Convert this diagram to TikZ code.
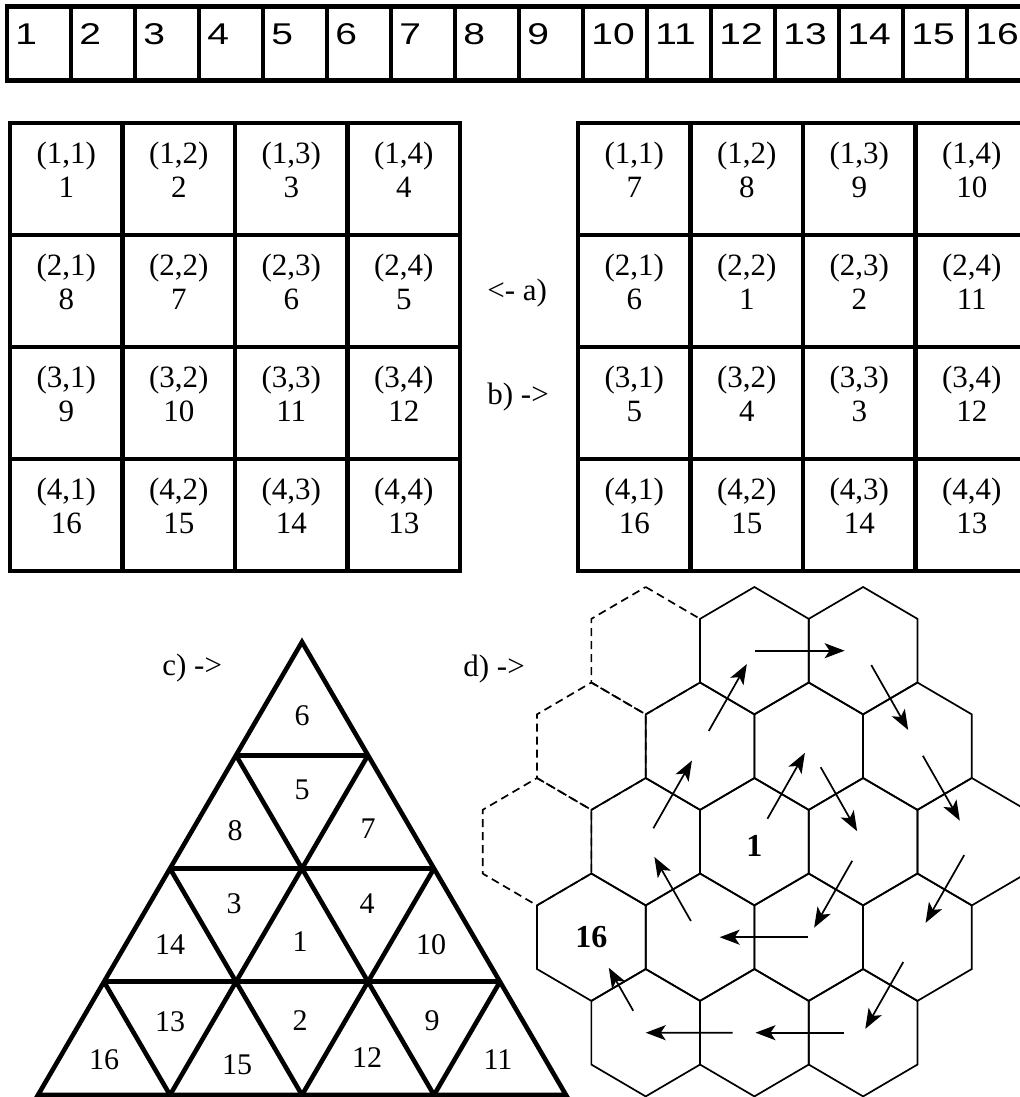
\documentclass[tikz,border=0pt]{standalone}
\usepackage{fontspec}
\usepackage{graphicx}
\setmainfont{Liberation Serif}
\newfontfamily\stripfont{Liberation Sans}
\usetikzlibrary{arrows.meta,calc}
\begin{document}
\begin{tikzpicture}[x=0.5pt,y=-0.5pt,>={Stealth[length=10pt,width=7.5pt,inset=2.5pt]},line join=miter,
	thick line/.style={line width=2.3pt},
	strip num/.style={anchor=base west,inner sep=0pt,font=\stripfont\fontsize{15}{15}\selectfont},
	cell txt/.style={anchor=base,inner sep=0pt,font=\fontsize{15.5}{15.5}\selectfont},
	tri txt/.style={inner sep=0pt,font=\fontsize{15}{15}\selectfont},
	hex line/.style={line width=0.85pt},
	hex dash/.style={line width=0.85pt,dash pattern=on 4pt off 2.5pt},
	hex num/.style={inner sep=0pt,font=\bfseries\fontsize{16}{16}\selectfont}]
	\useasboundingbox (0,0) rectangle (1020,1097);
	% strip of 16 cells
	\foreach \i in {1,...,16}{
		\draw[thick line] ({7+64*(\i-1)},6.5) rectangle ({7+64*\i},80.5);
		\node[strip num] (s\i) at ({15+64*(\i-1)},45) {\scalebox{1.3}[1]{\i}};
	}
	% grid a)
	\foreach \nums [count=\r] in {{1,2,3,4},{8,7,6,5},{9,10,11,12},{16,15,14,13}}
		\foreach \n [count=\c] in \nums{
			\draw[thick line] ({10+112.5*(\c-1)},{123+112*(\r-1)}) rectangle +(112.5,112);
			\node[cell txt] (a\r\c) at ({66.25+112.5*(\c-1)},{163+112*(\r-1)}) {(\r,\c)};
			\node[cell txt] (an\r\c) at ({66.25+112.5*(\c-1)},{197+112*(\r-1)}) {\n};
		}
	% grid b)
	\foreach \nums [count=\r] in {{7,8,9,10},{6,1,2,11},{5,4,3,12},{16,15,14,13}}
		\foreach \n [count=\c] in \nums{
			\draw[thick line] ({578+112.5*(\c-1)},{123+112*(\r-1)}) rectangle +(112.5,112);
			\node[cell txt] (b\r\c) at ({634.25+112.5*(\c-1)},{163+112*(\r-1)}) {(\r,\c)};
			\node[cell txt] (bn\r\c) at ({634.25+112.5*(\c-1)},{197+112*(\r-1)}) {\n};
		}
	\node[cell txt,anchor=base west] (labA) at (487,300) {<- a)};
	\node[cell txt,anchor=base west] (labB) at (487,404) {b) ->};
	\node[cell txt,anchor=base west] (labC) at (162,675) {c) ->};
	\node[cell txt,anchor=base west] (labD) at (463,676) {d) ->};
	% triangle c)
	\coordinate (top) at (302,642);
	\coordinate (bl) at (38,1095);
	\coordinate (br) at (566,1095);
	\draw[thick line] (top) -- (bl) -- (br) -- cycle;
	\foreach \k in {1,2,3}{
		\draw[thick line] ($(top)!\k/4!(bl)$) -- ($(top)!\k/4!(br)$);
		\draw[thick line] ($(bl)!\k/4!(br)$) -- ($(br)!{1-\k/4}!(top)$);
		\draw[thick line] ($(bl)!\k/4!(br)$) -- ($(bl)!\k/4!(top)$);
	}
	\foreach \n/\x/\y in {6/302/716,5/302/790,8/235/831,7/368/829,3/234/904,4/367/904,14/170/945,1/300/942,10/431/945,
		13/170/1022,2/300/1021,9/432/1021,16/104/1060,15/237/1065,12/367/1058,11/498/1060}
		\node[tri txt] (t\n) at (\x,\y) {\n};
	% hexagons d)
	\foreach \x/\y in {645.7/650.7,591.4/746.2,537/841.7}
		\draw[hex dash] (\x,\y) ++(0,-63.7) -- ++(54.35,31.85) -- ++(0,63.7) -- ++(-54.35,31.85) -- ++(-54.35,-31.85) -- ++(0,-63.7) -- cycle;
	\foreach \n/\x/\y in {1/754.4/841.7,2/808.7/746.2,3/863.1/841.7,4/808.7/937.2,5/700.1/937.2,6/645.7/841.7,
		7/700.1/746.2,8/754.4/650.7,9/863.1/650.7,10/917.4/746.2,11/971.8/841.7,12/917.4/937.2,
		13/863.1/1032.7,14/754.4/1032.7,15/645.7/1032.7,16/591.4/937.2}{
		\coordinate (c\n) at (\x,\y);
		\draw[hex line] (c\n) ++(0,-63.7) -- ++(54.35,31.85) -- ++(0,63.7) -- ++(-54.35,31.85) -- ++(-54.35,-31.85) -- ++(0,-63.7) -- cycle;
	}
	\foreach \a/\b/\s/\e in {1/2/.24/.93,2/3/.22/.89,3/4/.2/.9,4/5/.01/.82,5/6/.17/.84,6/7/.14/.85,7/8/.16/.86,8/9/.01/.83,
		9/10/.15/.83,10/11/.1/.78,11/12/.14/.85,12/13/.26/.96,13/14/.18/.99,14/15/.2/1,15/16/.23/.68}
		\draw[->,hex line] ($(c\a)!\s!(c\b)$) -- ($(c\a)!\e!(c\b)$);
	\node[hex num] (h1) at ([yshift=-2pt]c1) {1};
	\node[hex num] (h16) at (c16) {16};
\end{tikzpicture}
\end{document}
